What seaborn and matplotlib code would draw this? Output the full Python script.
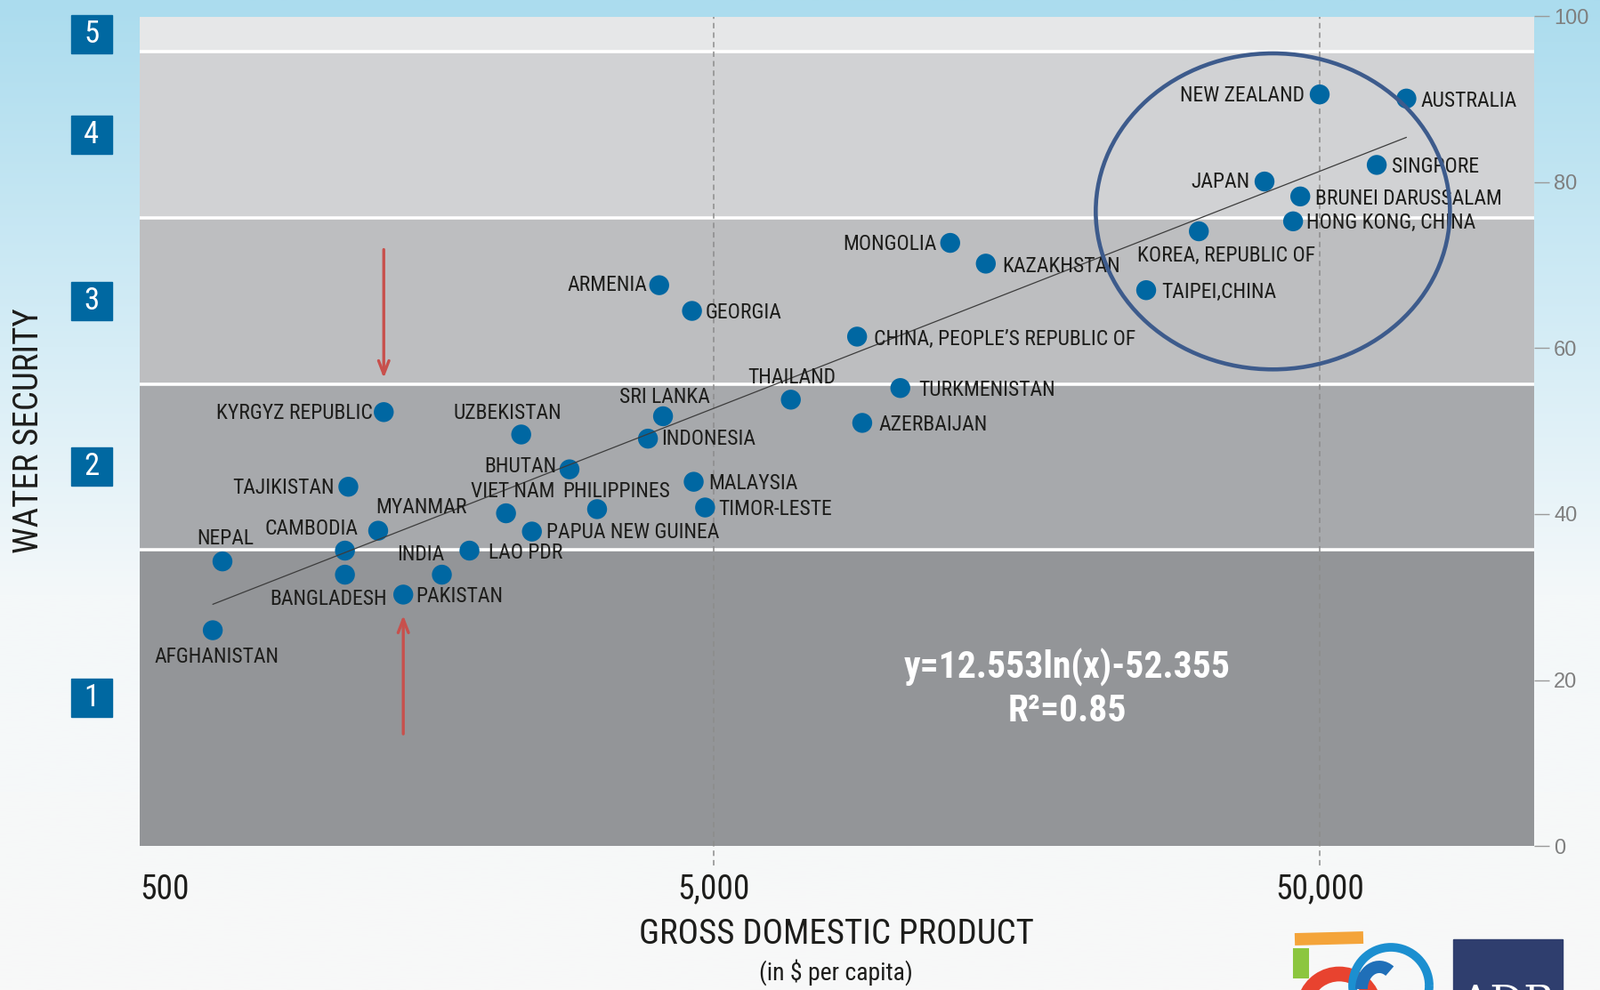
import numpy as np
import pandas as pd
import matplotlib
matplotlib.use("Agg")
import matplotlib.pyplot as plt
import seaborn as sns
from matplotlib import font_manager as fm
from matplotlib.patches import Ellipse, Rectangle, Arc
from matplotlib.ticker import NullLocator

# ---------------- data ----------------
countries = ["AUSTRALIA", "NEW ZEALAND", "SINGPORE", "JAPAN", "BRUNEI DARUSSALAM",
             "HONG KONG, CHINA", "KOREA, REPUBLIC OF", "TAIPEI,CHINA", "MONGOLIA",
             "KAZAKHSTAN", "CHINA, PEOPLE\u2019S REPUBLIC OF", "ARMENIA", "GEORGIA",
             "THAILAND", "TURKMENISTAN", "AZERBAIJAN", "SRI LANKA", "INDONESIA",
             "UZBEKISTAN", "KYRGYZ REPUBLIC", "BHUTAN", "MALAYSIA", "TIMOR-LESTE",
             "PHILIPPINES", "VIET NAM", "PAPUA NEW GUINEA", "TAJIKISTAN", "MYANMAR",
             "CAMBODIA", "BANGLADESH", "NEPAL", "AFGHANISTAN", "INDIA", "LAO PDR",
             "PAKISTAN"]
gdp_per_capita = [69500, 50000, 62100, 40550, 46450,
                  45200, 31600, 25870, 12290,
                  14070, 8630, 4070, 4610,
                  6710, 10170, 8800, 4130, 3900,
                  2410, 1430, 2895, 4640, 4845,
                  3215, 2275, 2510, 1250, 1400,
                  1234, 1234, 775, 747, 1783, 1980,
                  1540]
water_security = [90.1, 90.6, 82.1, 80.1, 78.3,
                  75.3, 74.1, 67.0, 72.7,
                  70.2, 61.4, 67.6, 64.5,
                  53.8, 55.2, 51.0, 51.8, 49.1,
                  49.6, 52.3, 45.4, 43.9, 40.8,
                  40.6, 40.1, 37.9, 43.3, 38.0,
                  35.6, 32.7, 34.3, 26.0, 32.7, 35.6,
                  30.3]
band_edges = [0, 35.7, 55.7, 75.7, 95.8, 100]
level_labels = ["1", "2", "3", "4", "5"]
x_tick_values = [5000, 50000]
x_tick_labels = ["500", "5,000", "50,000"]
y_tick_values = [0, 20, 40, 60, 80, 100]

df = pd.DataFrame({"country": countries, "gdp": gdp_per_capita, "ws": water_security})

# ---------------- layout (label offsets in pixels: dx, dy, ha) ----------------
S = 1.147
label_pos = {
    "AUSTRALIA": (14, -2, "left"), "NEW ZEALAND": (-15, -1, "right"),
    "SINGPORE": (15, -2, "left"), "JAPAN": (-14, 0, "right"),
    "BRUNEI DARUSSALAM": (15, -2, "left"), "HONG KONG, CHINA": (13, -1, "left"),
    "KOREA, REPUBLIC OF": (-60, -24, "left"), "TAIPEI,CHINA": (15, -2, "left"),
    "MONGOLIA": (-13, -1, "right"), "KAZAKHSTAN": (16, -3, "left"),
    "CHINA, PEOPLE\u2019S REPUBLIC OF": (16, -3, "left"), "ARMENIA": (-12, 0, "right"),
    "GEORGIA": (13, -2, "left"), "THAILAND": (1, 22, "center"),
    "TURKMENISTAN": (18, -2, "left"), "AZERBAIJAN": (16, -2, "left"),
    "SRI LANKA": (2, 19, "center"), "INDONESIA": (13, 0, "left"),
    "UZBEKISTAN": (-13, 21, "center"), "KYRGYZ REPUBLIC": (-11, -1, "right"),
    "BHUTAN": (-13, 3, "right"), "MALAYSIA": (15, -2, "left"),
    "TIMOR-LESTE": (13, -2, "left"), "PHILIPPINES": (19, 17, "center"),
    "VIET NAM": (7, 21, "center"), "PAPUA NEW GUINEA": (14, -1, "left"),
    "TAJIKISTAN": (-14, -1, "right"), "MYANMAR": (42, 23, "center"),
    "CAMBODIA": (-33, 21, "center"), "BANGLADESH": (-16, -24, "center"),
    "NEPAL": (3, 22, "center"), "AFGHANISTAN": (4, -26, "center"),
    "INDIA": (-21, 20, "center"), "LAO PDR": (19, -2, "left"),
    "PAKISTAN": (12, -2, "left"),
}

sns.set_theme(style="white")
avail = {f.name for f in fm.fontManager.ttflist}
cond = next((f for f in ["Liberation Sans Narrow", "Roboto Condensed", "Open Sans Condensed",
                         "Liberation Sans"] if f in avail), "DejaVu Sans")
reg = "Liberation Sans" if "Liberation Sans" in avail else "DejaVu Sans"
plt.rcParams["font.family"] = [cond, "DejaVu Sans"]

fig = plt.figure(figsize=(17.99, 11.13), dpi=100)

# background gradient
bg = fig.add_axes([0, 0, 1, 1], zorder=-10)
t = np.linspace(0, 1, 400)
stops = [0, 0.35, 0.6, 1]
cols = np.array([[171, 220, 238], [214, 237, 246], [244, 248, 250], [248, 248, 248]]) / 255
grad = np.stack([np.interp(t, stops, cols[:, c]) for c in range(3)], axis=-1)[:, None, :]
bg.imshow(grad, aspect="auto", extent=[0, 1, 0, 1], origin="upper")
bg.set_axis_off()

ax = fig.add_axes([157 / 1799, 1 - 951 / 1113, 1567 / 1799, (951 - 18.5) / 1113])
ax.set_xscale("log")
x_left, x_right = 566, 112900
ax.set_xlim(x_left, x_right)
ax.set_ylim(0, 100)

band_colors = ["#939598", "#a7a9ac", "#bdbec0", "#d1d2d4", "#e6e7e8"]
for lo, hi, c in zip(band_edges[:-1], band_edges[1:], band_colors):
    ax.axhspan(lo, hi, color=c, lw=0, zorder=0)
for e in band_edges[1:-1]:
    ax.axhline(e, color="white", lw=2.6, zorder=1)
for xv in x_tick_values:
    ax.axvline(xv, ymin=-0.024, ymax=1, color="#8c8c8c", lw=1.1, ls=(0, (4, 3)),
               clip_on=False, zorder=2)

sns.scatterplot(data=df, x="gdp", y="ws", s=260, color="#0067a2", edgecolor="none",
                ax=ax, zorder=5, legend=False)
sns.regplot(data=df, x="gdp", y="ws", logx=True, ci=None, scatter=False, ax=ax,
            line_kws=dict(color="#3c3c3c", lw=0.9, zorder=6))

for name, gx, wy in zip(countries, gdp_per_capita, water_security):
    dx, dy, ha = label_pos[name]
    ax.annotate(name, (gx, wy), xytext=(dx * S, dy * S), textcoords="offset pixels",
                ha=ha, va="center", fontsize=17, color="#1d1d1b", zorder=7)

# highlight circle
ax.add_patch(Ellipse((0.8126, 0.765), 0.254, 0.381, transform=ax.transAxes, fill=False,
                     ec="#3d5b8c", lw=3.3, zorder=8))

# red arrows
kg = countries.index("KYRGYZ REPUBLIC")
pk = countries.index("PAKISTAN")
astyle = dict(arrowstyle="->,head_length=0.9,head_width=0.35", color="#c8504c", lw=2.4,
              shrinkA=0, shrinkB=0)
ax.annotate("", xy=(gdp_per_capita[kg], 56.4), xytext=(gdp_per_capita[kg], 71.9),
            arrowprops=astyle, zorder=8)
ax.annotate("", xy=(gdp_per_capita[pk], 27.8), xytext=(gdp_per_capita[pk], 13.5),
            arrowprops=astyle, zorder=8)

# equation
ytr = ax.get_yaxis_transform()
ax.text(0.665, 21.5, "y=12.553ln(x)-52.355", transform=ytr, ha="center", va="center",
        fontsize=30, fontweight="semibold", color="white", zorder=8)
ax.text(0.665, 16.2, "R\u00b2=0.85", transform=ytr, ha="center", va="center",
        fontsize=30, fontweight="semibold", color="white", zorder=8)

# level boxes
for lo, hi, lab in zip(band_edges[:-1], band_edges[1:], level_labels):
    yc = (lo + hi) / 2
    ax.add_patch(Rectangle((-0.0345 - 0.0147, yc - 2.3), 0.0294, 4.6, transform=ytr,
                           color="#0068a1", clip_on=False, zorder=3))
    ax.text(-0.0345, yc, lab, transform=ytr, ha="center", va="center", fontsize=25,
            color="white", clip_on=False, zorder=4)

# axes styling
for sp in ax.spines.values():
    sp.set_visible(False)
ax.set_xlabel("")
ax.set_ylabel("")
ax.xaxis.set_minor_locator(NullLocator())
ax.set_xticks([x_left] + x_tick_values)
ax.set_xticklabels(x_tick_labels, fontsize=27, color="#1d1d1b")
ax.get_xticklabels()[0].set_ha("left")
ax.get_xticklabels()[0].set_x(x_left)
ax.tick_params(axis="x", length=0, pad=22)
ax.yaxis.tick_right()
ax.set_yticks(y_tick_values)
ax.set_yticklabels([str(v) for v in y_tick_values], fontsize=17, color="#7f7f7f",
                   family=reg)
ax.tick_params(axis="y", length=12, width=1.0, color="#9a9a9a", pad=4, right=True)

fig.text(0.5224, 0.0566, "GROSS DOMESTIC PRODUCT", ha="center", va="center", fontsize=28,
         color="#1d1d1b")
fig.text(0.5224, 0.018, "(in $ per capita)", ha="center", va="center", fontsize=20,
         color="#1d1d1b")
fig.text(0.0178, 0.565, "WATER SECURITY", rotation=90, ha="center", va="center",
         fontsize=28, color="#1d1d1b")

# logo (decorative)
lg = fig.add_axes([1440 / 1799, 0, 330 / 1799, 70 / 1113], zorder=5)
lg.set_xlim(1440, 1770)
lg.set_ylim(1113, 1043)
lg.set_axis_off()
lg.add_patch(Rectangle((1633, 1056), 123, 60, color="#2f3e6e"))
lg.text(1694, 1106, "ADB", ha="center", va="top", fontsize=34, color="white",
        family="DejaVu Serif", clip_on=True)
lg.plot([1455, 1532], [1056, 1054], color="#f4a43a", lw=10, solid_capstyle="butt")
lg.plot([1462, 1462], [1066, 1100], color="#8cc63f", lw=13, solid_capstyle="butt")
lg.add_patch(Arc((1505, 1135), 80, 80, theta1=200, theta2=340, color="#e8432f", lw=12))
lg.add_patch(Arc((1563, 1108), 86, 86, theta1=0, theta2=360, color="#1c8fd0", lw=7))
lg.add_patch(Arc((1550, 1112), 40, 50, theta1=180, theta2=300, color="#1f6fb8", lw=10))

fig.savefig("out.png", dpi=100)
